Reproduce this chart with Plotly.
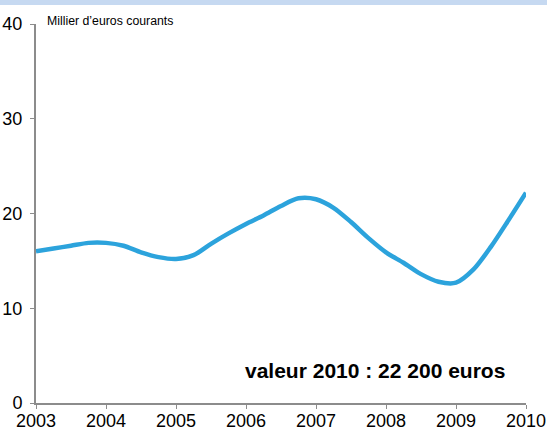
import plotly.graph_objects as go

years = [2003.00, 2003.25, 2003.50, 2003.75, 2004.00, 2004.25, 2004.50, 2004.75,
         2005.00, 2005.25, 2005.50, 2005.75, 2006.00, 2006.25, 2006.50, 2006.75,
         2007.00, 2007.25, 2007.50, 2007.75, 2008.00, 2008.25, 2008.50, 2008.75,
         2009.00, 2009.25, 2009.50, 2009.75, 2010.00]
values = [16.0, 16.3, 16.6, 16.9, 16.9, 16.6, 15.9, 15.4,
          15.2, 15.6, 16.8, 17.9, 18.9, 19.8, 20.8, 21.6,
          21.5, 20.6, 19.1, 17.4, 15.9, 14.8, 13.6, 12.8,
          12.7, 14.1, 16.5, 19.3, 22.2]
x_ticks = [2003, 2004, 2005, 2006, 2007, 2008, 2009, 2010]
y_ticks = [0, 10, 20, 30, 40]
unit_label = "Millier d\u2019euros courants"
note = "valeur 2010 : 22 200 euros"

FONT = "Liberation Sans, Arial, sans-serif"
L, R, T, B = 36, 21, 24, 27
PW, PH = 547 - L - R, 430 - T - B

fig = go.Figure()
fig.add_trace(go.Scatter(
    x=years, y=values, mode="lines",
    line=dict(color="#2ca3dc", width=4.5, shape="spline", smoothing=0.8),
    hoverinfo="skip", showlegend=False,
))

axis_common = dict(showgrid=False, zeroline=False, showline=True, linecolor="#8c8c8c", linewidth=2,
                   ticks="outside", ticklen=4, tickcolor="#8c8c8c", tickwidth=1,
                   tickfont=dict(size=18, family=FONT, color="black"), fixedrange=True,
                   automargin=False)

fig.update_layout(
    width=547, height=430,
    margin=dict(l=L, r=R, t=T, b=B, pad=0),
    paper_bgcolor="white", plot_bgcolor="white",
    font=dict(family=FONT, color="black"),
    xaxis=dict(range=[2003, 2010], tickvals=x_ticks, ticktext=[str(v) for v in x_ticks],
               ticklabelstandoff=-4, **axis_common),
    yaxis=dict(range=[0, 40], tickvals=y_ticks, ticktext=[str(v) for v in y_ticks],
               ticklabelstandoff=4, **axis_common),
    shapes=[dict(type="rect", xref="paper", yref="paper",
                 x0=-L / PW, x1=1 + R / PW, y0=1 + (T - 5) / PH, y1=1 + T / PH,
                 fillcolor="#c6d9f1", line=dict(width=0), layer="above")],
    annotations=[
        dict(text=unit_label, xref="paper", yref="paper", x=(45 - L) / PW, y=1 + (T - 21) / PH,
             xanchor="left", yanchor="middle", showarrow=False,
             font=dict(size=12.3, family=FONT, color="black")),
        dict(text="<b>" + note + "</b>", xref="paper", yref="paper", x=(507 - L) / PW,
             y=(403 - 370) / PH, xanchor="right", yanchor="middle", showarrow=False,
             font=dict(size=21, family=FONT, color="black")),
    ],
)

fig.write_html("out.html", config={"displayModeBar": False},
               post_script="document.body.style.margin='0px';document.body.style.overflow='hidden';")
